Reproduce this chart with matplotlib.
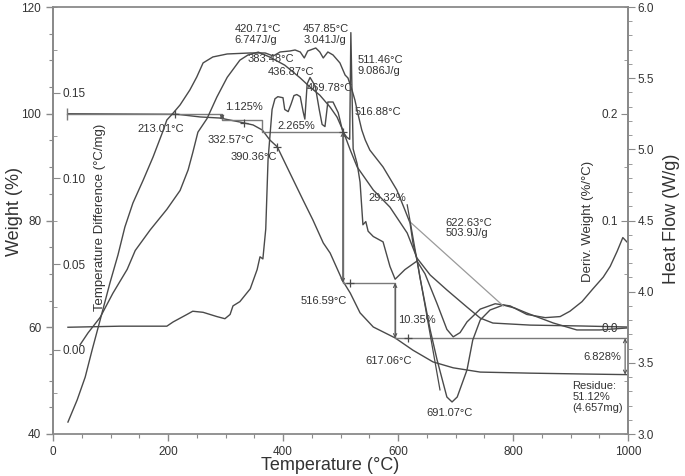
import matplotlib
matplotlib.use('Agg')
import matplotlib.pyplot as plt
from matplotlib.ticker import MultipleLocator

plt.rcParams['font.family'] = ['Liberation Sans', 'DejaVu Sans']
plt.rcParams['font.size'] = 8.5

# weight (%) vs temperature
wt_temp = [26, 216, 256, 290, 325, 348, 364, 377, 390, 412, 435, 452, 470, 482,
           503, 517, 534, 557, 595, 626, 661, 696, 743, 830, 917, 1000]
wt_val = [100.0, 99.9, 99.4, 99.2, 98.45, 97.9, 96.95, 95.1, 93.8, 88.9, 83.8, 80.1,
          75.8, 73.9, 68.85, 66.4, 62.7, 60.05, 58.0, 55.7, 53.5, 52.4, 51.6, 51.4,
          51.25, 51.12]

# deriv. weight (%/°C)
dw_temp = [26, 117, 198, 209, 233, 243, 261, 285, 299, 308, 313, 325, 343, 355, 360,
           365, 370, 374, 381, 386, 391, 400, 403, 409, 414, 419, 424, 430, 435, 438,
           442, 447, 456, 463, 468, 473, 478, 487, 496, 504, 511, 516, 518, 522, 529,
           534, 539, 544, 548, 557, 574, 586, 595, 612, 633, 647, 668, 685, 696, 708,
           720, 743, 769, 795, 824, 856, 882, 899, 920, 939, 957, 969, 981, 991, 998]
dw_val = [0.000, 0.001, 0.001, 0.005, 0.012, 0.015, 0.014, 0.010, 0.008, 0.012, 0.020,
          0.024, 0.036, 0.054, 0.066, 0.064, 0.092, 0.157, 0.204, 0.214, 0.216, 0.215,
          0.204, 0.202, 0.209, 0.217, 0.218, 0.216, 0.202, 0.195, 0.228, 0.234, 0.226,
          0.204, 0.190, 0.188, 0.211, 0.211, 0.201, 0.183, 0.178, 0.176, 0.276, 0.167,
          0.153, 0.136, 0.096, 0.099, 0.090, 0.085, 0.080, 0.057, 0.045, 0.054, 0.062,
          0.050, 0.022, -0.002, -0.009, -0.005, 0.005, 0.017, 0.022, 0.020, 0.012,
          0.009, 0.010, 0.015, 0.024, 0.036, 0.047, 0.057, 0.071, 0.084, 0.080]

# heat flow (W/g)
hf_temp = [26, 42, 56, 68, 82, 99, 113, 125, 139, 157, 174, 190, 198, 209, 221, 238,
           250, 261, 278, 303, 343, 369, 383, 395, 412, 421, 430, 437, 443, 457, 464,
           470, 478, 487, 499, 508, 513, 520, 525, 530, 537, 543, 551, 574, 598, 612,
           621, 626, 633, 638, 656, 668, 685, 694, 703, 720, 730, 743, 760, 783, 803,
           824, 870, 911, 951, 998]
hf_val = [3.084, 3.239, 3.400, 3.590, 3.801, 4.061, 4.258, 4.454, 4.623, 4.785, 4.946,
          5.115, 5.206, 5.255, 5.312, 5.417, 5.508, 5.607, 5.649, 5.670, 5.677, 5.677,
          5.656, 5.684, 5.691, 5.698, 5.684, 5.642, 5.691, 5.712, 5.684, 5.642, 5.684,
          5.663, 5.607, 5.522, 5.501, 5.417, 5.347, 5.255, 5.136, 5.066, 4.995, 4.876,
          4.714, 4.574, 4.482, 4.342, 4.223, 4.103, 3.731, 3.520, 3.260, 3.225, 3.260,
          3.450, 3.660, 3.801, 3.871, 3.906, 3.885, 3.850, 3.780, 3.731, 3.731, 3.745]

# temperature difference (°C/mg)
td_temp = [47, 61, 82, 104, 129, 143, 169, 198, 221, 235, 243, 252, 268, 285, 303, 325,
           339, 357, 377, 403, 430, 447, 464, 482, 494, 504, 517, 529, 557, 586, 616,
           633, 656, 685, 720, 743, 765, 830, 917, 998]
td_val = [0.003, 0.010, 0.019, 0.033, 0.047, 0.058, 0.070, 0.082, 0.093, 0.105, 0.115,
          0.127, 0.135, 0.1475, 0.159, 0.169, 0.172, 0.1737, 0.1708, 0.1661, 0.1586,
          0.1533, 0.1486, 0.1416, 0.1358, 0.1282, 0.1166, 0.1067, 0.0933, 0.0833,
          0.0682, 0.0536, 0.0437, 0.035, 0.025, 0.0186, 0.0157, 0.0145, 0.014, 0.0134]

# step analysis (weight %)
step_temp = [25, 294, 294, 363, 363, 504, 504, 595, 595, 1000]
step_wt = [100.0, 100.0, 98.875, 98.875, 96.6, 96.6, 68.3, 68.3, 57.95, 57.95]

line_col = '#4a4a4a'
axis_col = '#8a8a8a'
text_col = '#333333'

fig = plt.figure(figsize=(6.85, 4.76), dpi=100)
ax = fig.add_axes([53 / 685, 42 / 476, 575 / 685, 427 / 476])
ax.set_xlim(0, 1000)
ax.set_ylim(40, 120)

ax_td = ax.twinx()
ax_td.set_ylim(-0.049, 0.2)
ax_dw = ax.twinx()
ax_dw.set_ylim(-0.1, 0.3)
ax_hf = ax.twinx()
ax_hf.set_ylim(3.0, 6.0)

for a in (ax, ax_td, ax_dw, ax_hf):
    for s in a.spines.values():
        s.set_color(axis_col)
        s.set_linewidth(1.3)

# main axis: weight on the left, temperature at the bottom
ax.set_xticks([0, 200, 400, 600, 800, 1000])
ax.xaxis.set_minor_locator(MultipleLocator(50))
ax.set_yticks([40, 60, 80, 100, 120])
ax.yaxis.set_minor_locator(MultipleLocator(5))
ax.tick_params(which='both', direction='out', colors=axis_col, labelcolor=text_col,
               right=False, top=False)
ax.tick_params(which='major', length=5, width=1.0)
ax.tick_params(which='minor', length=3, width=0.8)

# temperature difference: ticks point right from the left spine
ax_td.spines['right'].set_position(('axes', 0.0))
for s in ('left', 'top', 'bottom'):
    ax_td.spines[s].set_visible(False)
ax_td.yaxis.set_ticks_position('right')
ax_td.set_yticks([0.0, 0.05, 0.10, 0.15])
ax_td.set_yticklabels(['0.00', '0.05', '0.10', '0.15'])
ax_td.yaxis.set_minor_locator(MultipleLocator(0.025))
ax_td.tick_params(which='both', direction='out', colors=axis_col, labelcolor=text_col)
ax_td.tick_params(which='major', length=5, pad=2)
ax_td.tick_params(which='minor', length=3)

# deriv. weight: ticks point left from the right spine
ax_dw.spines['left'].set_position(('axes', 1.0))
for s in ('right', 'top', 'bottom'):
    ax_dw.spines[s].set_visible(False)
ax_dw.yaxis.set_ticks_position('left')
ax_dw.set_yticks([0.0, 0.1, 0.2])
ax_dw.set_yticklabels(['0.0', '0.1', '0.2'])
ax_dw.yaxis.set_minor_locator(MultipleLocator(0.05))
ax_dw.tick_params(which='both', direction='out', colors=axis_col, labelcolor=text_col)
ax_dw.tick_params(which='major', length=5, pad=2)
ax_dw.tick_params(which='minor', length=3)

# heat flow on the outer right
for s in ('left', 'top', 'bottom'):
    ax_hf.spines[s].set_visible(False)
ax_hf.set_yticks([3.0, 3.5, 4.0, 4.5, 5.0, 5.5, 6.0])
ax_hf.set_yticklabels(['3.0', '3.5', '4.0', '4.5', '5.0', '5.5', '6.0'])
ax_hf.yaxis.set_minor_locator(MultipleLocator(0.1))
ax_hf.tick_params(which='both', direction='out', colors=axis_col, labelcolor=text_col)
ax_hf.tick_params(which='major', length=5, pad=2)
ax_hf.tick_params(which='minor', length=3)

# curves
ax.plot(wt_temp, wt_val, color=line_col, lw=1.0)
ax_dw.plot(dw_temp, dw_val, color=line_col, lw=1.0)
ax_hf.plot(hf_temp, hf_val, color=line_col, lw=1.0)
ax_td.plot(td_temp, td_val, color=line_col, lw=1.0)

# DSC integration baseline and onset tangent
ax_hf.plot([621, 783], [4.49, 3.90], color='#9a9a9a', lw=0.9)
ax_hf.plot([616, 673], [4.61, 3.31], color=line_col, lw=0.9)

# step analysis lines
ax.plot(step_temp, step_wt, color='#7a7a7a', lw=1.0)
ax.plot([25], [100], marker='|', ms=8, color='#7a7a7a')
ax.plot([213, 332, 390, 504, 517, 617], [99.9, 98.3, 93.7, 96.6, 68.3, 57.95],
        ls='none', marker='+', ms=6, mew=0.9, color=line_col)

arrow_kw = dict(arrowstyle='<->', color='#555555', lw=0.8, mutation_scale=6,
                shrinkA=0, shrinkB=0)
ax.annotate('', xy=(294, 98.875), xytext=(294, 100.0), arrowprops=arrow_kw)
ax.annotate('', xy=(504, 68.3), xytext=(504, 96.6), arrowprops=arrow_kw)
ax.annotate('', xy=(595, 57.95), xytext=(595, 68.3), arrowprops=arrow_kw)
ax.annotate('', xy=(995, 51.12), xytext=(995, 57.95), arrowprops=arrow_kw)

# annotations
notes = [
    (316, 114.8, '420.71°C\n6.747J/g'),
    (435, 114.8, '457.85°C\n3.041J/g'),
    (339, 110.2, '383.48°C'),
    (374, 107.8, '436.87°C'),
    (442, 104.8, '469.78°C'),
    (530, 109.1, '511.46°C\n9.086J/g'),
    (525, 100.3, '516.88°C'),
    (146, 97.1, '213.01°C'),
    (299, 101.3, '1.125%'),
    (268, 95.1, '332.57°C'),
    (308, 91.9, '390.36°C'),
    (390, 97.7, '2.265%'),
    (548, 84.2, '29.32%'),
    (682, 78.6, '622.63°C\n503.9J/g'),
    (430, 64.9, '516.59°C'),
    (600, 61.4, '10.35%'),
    (543, 53.7, '617.06°C'),
    (650, 43.9, '691.07°C'),
    (922, 54.4, '6.828%'),
    (903, 46.9, 'Residue:\n51.12%\n(4.657mg)'),
]
for t, w, s in notes:
    ax.text(t, w, s, fontsize=8, color=text_col, ha='left', va='center', linespacing=1.1)

# axis titles
fig.text(15 / 685, 1 - 212 / 476, 'Weight (%)', rotation=90, fontsize=13,
         color=text_col, ha='center', va='center')
fig.text(672 / 685, 1 - 219 / 476, 'Heat Flow (W/g)', rotation=90, fontsize=13,
         color=text_col, ha='center', va='center')
fig.text(100 / 685, 1 - 217 / 476, 'Temperature Difference (°C/mg)', rotation=90,
         fontsize=9.5, color=text_col, ha='center', va='center')
fig.text(588 / 685, 1 - 221 / 476, 'Deriv. Weight (%/°C)', rotation=90,
         fontsize=9.5, color=text_col, ha='center', va='center')
fig.text(330 / 685, 1 - 466 / 476, 'Temperature (°C)', fontsize=13,
         color=text_col, ha='center', va='center')

fig.savefig('out.png', dpi=100)
